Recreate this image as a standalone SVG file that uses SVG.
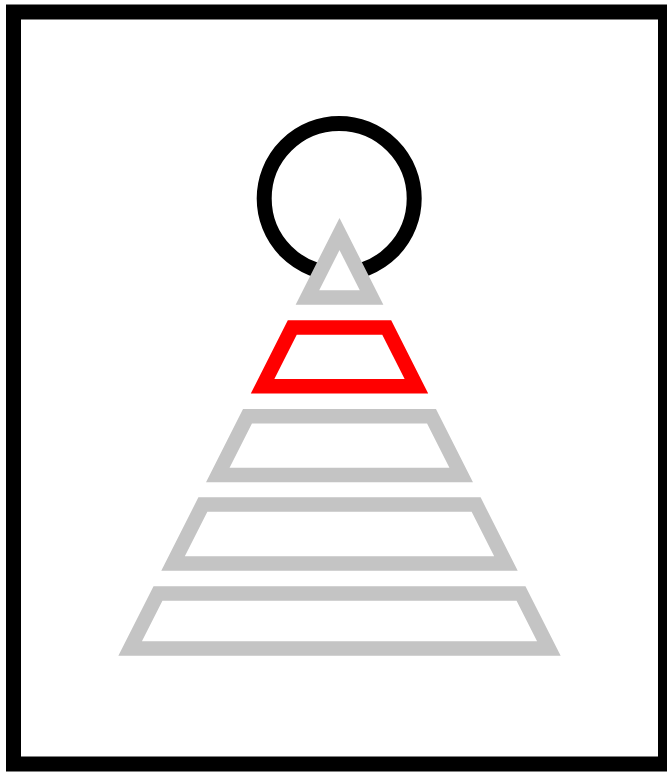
<svg xmlns="http://www.w3.org/2000/svg" width="667" height="772" viewBox="0 0 667 772">
  <style>
    .frame { fill: #ffffff; stroke: #000000; stroke-width: 15; }
    .ring { fill: none; stroke: #000000; stroke-width: 15; }
    .tier { fill: #ffffff; stroke: #c4c4c4; stroke-width: 14.5; stroke-linejoin: miter; stroke-miterlimit: 10; }
    .tier.active { stroke: #ff0000; }
  </style>
  <rect width="667" height="772" fill="#ffffff"/>
  <g id="frame">
    <rect class="frame" x="13.5" y="12" width="652" height="752"/>
  </g>
  <g id="ring">
    <circle class="ring" cx="339.2" cy="198.5" r="75"/>
  </g>
  <g id="tier-1">
    <polygon class="tier" points="339.5,234 371.57,297.5 307.43,297.5"/>
  </g>
  <g id="tier-2">
    <polygon class="tier active" points="292.28,327.5 386.72,327.5 416.41,386.3 262.59,386.3"/>
  </g>
  <g id="tier-3">
    <polygon class="tier" points="247.49,416.2 431.51,416.2 461.2,475 217.8,475"/>
  </g>
  <g id="tier-4">
    <polygon class="tier" points="202.85,504.6 476.15,504.6 505.95,563.6 173.05,563.6"/>
  </g>
  <g id="tier-5">
    <polygon class="tier" points="158,593.4 521,593.4 548.87,648.6 130.13,648.6"/>
  </g>
</svg>
